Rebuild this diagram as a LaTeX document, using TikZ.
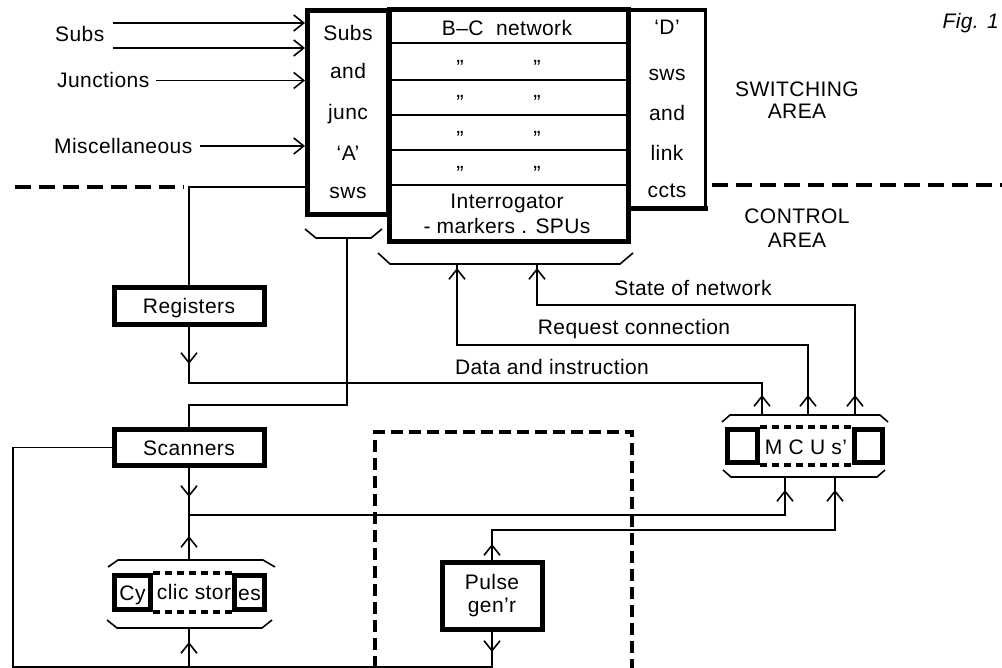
\documentclass[tikz,border=0pt]{standalone}
\usepackage{fontspec}
\setmainfont{Liberation Sans}[LetterSpace=2]
\usetikzlibrary{arrows.meta}
\newcommand\tipup[2]{\draw[arr] (#1,#2+12) -- (#1,#2);}
\newcommand\tipdn[2]{\draw[arr] (#1,#2-12) -- (#1,#2);}
\begin{document}
\begin{tikzpicture}[x=1pt,y=-1pt,
  every node/.style={font=\fontsize{21}{25}\selectfont, inner sep=0pt, text height=15pt, text depth=0pt},
  ln/.style={line width=1.6pt},
  tbox/.style={draw, line width=5pt},
  arr/.style={line width=1.6pt, -{Straight Barb[length=10pt,width=16pt]}},
  sepdash/.style={line width=3.5pt, dash pattern=on 16pt off 8pt},
  boxdash/.style={line width=3.5pt, dash pattern=on 12pt off 6pt},
  mdash/.style={line width=4pt, dash pattern=on 7pt off 5pt},
  brk/.style={line width=1.6pt},
  ditto/.style={anchor=base, font=\fontsize{22}{24}\selectfont}
]
\useasboundingbox (0,0) rectangle (1002,668);

% ---------------- main switching block
\node[tbox, minimum width=239pt, minimum height=232pt] (M) at (509,126) {};
\node[tbox, minimum width=81pt, minimum height=204pt] (A) at (348,112.5) {};
\node[minimum width=76pt, minimum height=198pt] (D) at (667,109) {};
\draw[line width=4pt, line cap=rect] (D.north west) -- (D.north east);
\draw[line width=5pt, line cap=rect] (D.south west) -- (D.south east);
\draw[line width=3pt, line cap=rect] (D.north east) -- (D.south east);
\foreach \yy in {43,80,115,150,185} \draw[ln] (392,\yy) -- (626,\yy);

% texts of A
\node (a1) at (348,33) {Subs};
\node (a2) at (348,71) {and};
\node (a3) at (348,112) {junc};
\node (a4) at (348,153) {‘A’};
\node (a5) at (348,191) {sws};
% texts of D
\node (d1) at (667,27) {‘D’};
\node (d2) at (667,73) {sws};
\node (d3) at (667,113) {and};
\node (d4) at (667,153) {link};
\node (d5) at (667,190) {ccts};
% texts of M
\node (m1) at (507,28) {B–C\ \ network};
\node[ditto] (m2a) at (460,76) {”};
\node[ditto] (m2b) at (537,76) {”};
\node[ditto] (m3a) at (460,111) {”};
\node[ditto] (m3b) at (537,111) {”};
\node[ditto] (m4a) at (460,147) {”};
\node[ditto] (m4b) at (537,147) {”};
\node[ditto] (m5a) at (460,182) {”};
\node[ditto] (m5b) at (537,182) {”};
\node (m6) at (507,201) {Interrogator};
\node (m7) at (507,226) {- markers . SPUs};

% ---------------- inputs
\node[anchor=west] (lsubs) at (55,34) {Subs};
\node[anchor=west] (ljun) at (57,80.5) {Junctions};
\node[anchor=west] (lmis) at (54,146) {Miscellaneous};
\coordinate (s1) at (113,23);
\coordinate (s2) at (113,48);
\draw[arr] (s1) -- (A.west |- s1);
\draw[arr] (s2) -- (A.west |- s2);
\draw[arr] ([xshift=7pt]ljun.east) -- (A.west |- ljun.east);
\draw[arr] ([xshift=7pt]lmis.east) -- (A.west |- lmis.east);

% ---------------- area separator and labels
\draw[sepdash] (15,187) -- (184,187);
\draw[sepdash] (712,185) -- (1002,185);
\node (sw1) at (797,89) {SWITCHING};
\node (sw2) at (797,111) {AREA};
\node (ct1) at (797,216) {CONTROL};
\node (ct2) at (797,240) {AREA};
\node[anchor=base east, font=\fontsize{21}{25}\selectfont\itshape] (fig) at (999,29) {Fig. 1};

% ---------------- brackets
\draw[brk] (305,229) -- (316,238) -- (371,238) -- (382,229);
\coordinate (Abr) at (347,238);
\draw[brk] (378,253) -- (390,264) -- (620,264) -- (633,253);
\coordinate (mb1) at (457,264);
\coordinate (mb2) at (537,264);

% ---------------- control blocks
\node[tbox, minimum width=150pt, minimum height=37pt] (Reg) at (189,306) {Registers};
\node[tbox, minimum width=150pt, minimum height=36pt] (Scan) at (189,447.5) {Scanners};
\node[tbox, minimum width=100pt, minimum height=67pt] (Pulse) at (492,596) {};
\node (p1) at (492,582) {Pulse};
\node (p2) at (492,605) {gen’r};

% MCUs
\node[tbox, minimum width=30pt, minimum height=33pt] (MCL) at (742.5,446) {};
\node[tbox, minimum width=28pt, minimum height=33pt] (MCR) at (868.5,446) {};
\draw[mdash] (MCL.north east) -- (MCR.north west);
\draw[mdash] (MCL.south east) -- (MCR.south west);
\node (mcu) at (806,447) {M C U s’};
\draw[brk] (722,422) -- (730,415) -- (880,415) -- (888,422);
\draw[brk] (723,470) -- (731,477) -- (877,477) -- (885,470);
\coordinate (mt1) at (762,415);
\coordinate (mt2) at (808,415);
\coordinate (mt3) at (855,415);
\coordinate (ml1) at (785,477);
\coordinate (ml2) at (835,477);

% Cyclic stores
\node[tbox, minimum width=36pt, minimum height=34pt] (CL) at (132.5,592.5) {};
\node[tbox, minimum width=30pt, minimum height=34pt] (CR) at (249.5,592.5) {};
\draw[mdash] (CL.north east) -- (CR.north west);
\draw[mdash] (CL.south east) -- (CR.south west);
\node (c1) at (CL) {Cy};
\node (c2) at (194,592) {clic stor};
\node (c3) at (CR) {es};
\draw[brk] (108,567) -- (118,560) -- (263,560) -- (275,567);
\draw[brk] (107,620) -- (117,628) -- (262,628) -- (272,620);
\coordinate (cyt) at (189,560);
\coordinate (cyb) at (189,628);

% big dashed enclosure
\draw[boxdash] (375,668) -- (375,432) -- (632,432) -- (632,668);

% ---------------- connectors
\coordinate (sw) at (189,187);
\draw[ln] (A.west |- sw) -- (sw) -- (Reg.north);
\coordinate (dA) at (189,383);
\coordinate (dB) at (762,383);
\draw[ln] (Reg.south) -- (dA) -- (dB) -- (mt1);
\node (ldata) at (552,367) {Data and instruction};
\coordinate (ab1) at (347,405);
\coordinate (ab2) at (189,405);
\draw[ln] (Abr) -- (ab1) -- (ab2) -- (Scan.north);
\coordinate (rq1) at (808,345);
\coordinate (rq2) at (457,345);
\draw[ln] (mt2) -- (rq1) -- (rq2) -- (mb1);
\node (lreq) at (634,327) {Request connection};
\coordinate (st1) at (855,305);
\coordinate (st2) at (537,305);
\draw[ln] (mt3) -- (st1) -- (st2) -- (mb2);
\node (lstate) at (693,288) {State of network};
\coordinate (j1) at (189,515);
\coordinate (j2) at (785,515);
\draw[ln] (Scan.south) -- (j1) -- (j2) -- (ml1);
\draw[ln] (cyt) -- (j1);
\coordinate (pA) at (492,530);
\coordinate (pB) at (835,530);
\draw[ln] (Pulse.north) -- (pA) -- (pB) -- (ml2);
\coordinate (lo1) at (492,667);
\coordinate (lo2) at (13,667);
\coordinate (lo3) at (13,447.5);
\draw[ln] (Pulse.south) -- (lo1) -- (lo2) -- (lo3) -- (Scan.west);
\coordinate (lo4) at (189,667);
\draw[ln] (lo4) -- (cyb);

% ---------------- direction marks
\tipup{762}{395}
\tipup{808}{395}
\tipup{855}{395}
\tipup{457}{268}
\tipup{537}{268}
\tipdn{189}{364}
\tipdn{189}{497}
\tipup{189}{536}
\tipup{189}{642}
\tipup{785}{490}
\tipup{835}{490}
\tipup{492}{544}
\tipdn{492}{652}
\end{tikzpicture}
\end{document}
